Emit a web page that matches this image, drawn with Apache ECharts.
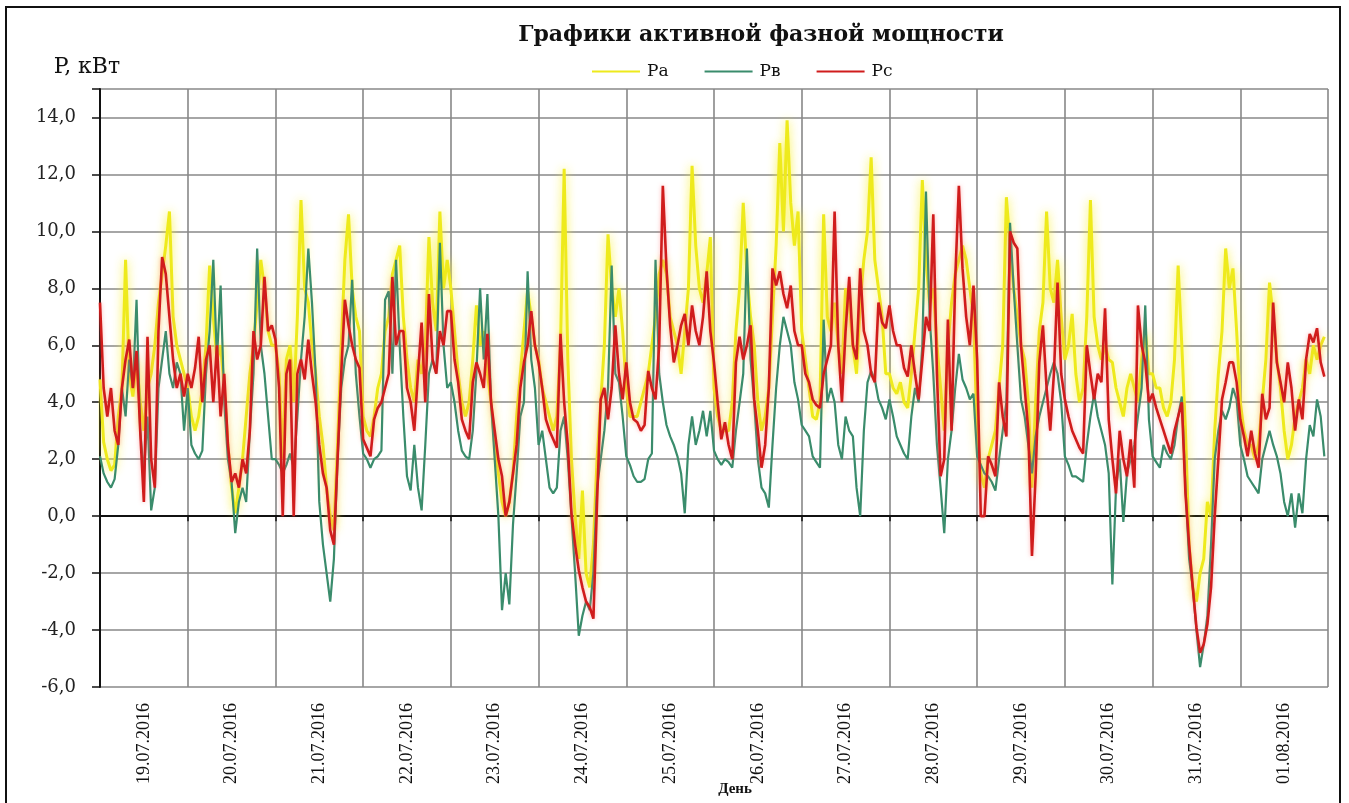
<!DOCTYPE html>
<html>
<head>
<meta charset="utf-8">
<title>Графики активной фазной мощности</title>
<script src="https://cdn.jsdelivr.net/npm/echarts@6/dist/echarts.min.js"></script>
<style>
  html, body { margin: 0; padding: 0; background: #fff; }
  #chart { width: 1349px; height: 803px; }
</style>
</head>
<body>
<div id="chart"></div>
<script>
// Days shown on the horizontal axis (one band per day)
const days = ['19.07.2016', '20.07.2016', '21.07.2016', '22.07.2016', '23.07.2016',
  '24.07.2016', '25.07.2016', '26.07.2016', '27.07.2016', '28.07.2016',
  '29.07.2016', '30.07.2016', '31.07.2016', '01.08.2016'];

// Hourly active power per phase, kW (24 values per day)
const pa = [
  4.8, 2.6, 2.0, 1.6, 1.8, 3.5, 4.5, 9.0, 5.0, 4.2, 5.5, 4.0, 3.0, 4.5, 5.0, 6.0, 7.5, 8.5, 9.5, 10.7, 7.0, 6.0, 5.5, 5.0,
  4.5, 3.5, 3.0, 3.5, 4.5, 6.0, 8.8, 7.0, 5.5, 6.0, 4.5, 2.5, 1.0, 0.1, 1.0, 2.0, 3.5, 5.0, 6.0, 7.5, 9.0, 8.0, 6.5, 6.0,
  6.0, 5.0, 2.0, 5.5, 6.0, 4.0, 7.0, 11.1, 8.0, 7.5, 6.0, 5.0, 3.5, 2.5, 1.0, 0.0, -0.5, 2.5, 6.0, 9.0, 10.6, 8.0, 7.0, 6.5,
  3.5, 3.0, 2.8, 3.5, 4.5, 5.0, 6.5, 7.0, 8.5, 9.0, 9.5, 7.0, 5.5, 4.5, 4.0, 5.5, 5.0, 6.0, 9.8, 7.5, 6.5, 10.7, 8.0, 9.0,
  8.0, 6.5, 5.0, 4.0, 3.5, 4.0, 5.5, 7.4, 6.0, 6.5, 5.0, 4.0, 2.5, 1.5, 0.5, 0.0, 0.5, 1.5, 3.5, 5.0, 6.5, 7.9, 7.0, 6.0,
  5.5, 4.5, 4.0, 3.5, 3.0, 3.5, 6.0, 12.2, 5.5, 2.0, 0.0, -1.5, 0.9, -2.0, -2.5, -1.0, 2.0, 4.0, 6.0, 9.9, 8.0, 7.0, 8.0, 6.5,
  4.5, 3.5, 3.5, 3.5, 4.0, 4.5, 5.0, 6.0, 7.0, 8.5, 9.0, 8.5, 7.0, 6.5, 6.0, 5.0, 6.5, 8.0, 12.3, 9.5, 8.0, 7.5, 8.5, 9.8,
  4.5, 3.5, 3.0, 3.0, 3.0, 4.0, 6.5, 8.0, 11.0, 8.5, 7.0, 6.0, 4.0, 3.0, 3.5, 4.5, 7.0, 9.5, 13.1, 10.0, 13.9, 11.0, 9.5, 10.7,
  6.5, 5.5, 4.5, 3.5, 3.4, 4.0, 10.6, 7.0, 6.5, 7.5, 6.0, 5.0, 8.0, 7.5, 6.0, 5.0, 7.5, 9.0, 10.0, 12.6, 9.0, 8.0, 7.0, 5.0,
  5.0, 4.5, 4.3, 4.7, 4.0, 3.8, 5.0, 6.5, 8.0, 11.8, 9.0, 7.5, 8.0, 6.0, 4.5, 3.0, 6.0, 7.5, 8.5, 9.0, 9.5, 9.0, 8.0, 7.0,
  3.0, 1.5, 1.0, 2.0, 2.5, 3.0, 4.5, 6.0, 11.2, 9.5, 8.0, 7.0, 6.0, 5.5, 4.0, 1.0, 4.0, 6.5, 7.5, 10.7, 8.0, 7.5, 9.0, 7.0,
  5.5, 6.0, 7.1, 5.0, 4.0, 4.5, 7.0, 11.1, 7.0, 6.0, 5.5, 6.0, 5.5, 5.4, 4.5, 4.0, 3.5, 4.5, 5.0, 4.5, 4.0, 5.5, 6.5, 5.0,
  5.0, 4.5, 4.5, 3.8, 3.5, 4.0, 5.5, 8.8, 6.0, 3.0, -1.0, -2.5, -3.0, -2.0, -1.5, 0.5, 0.0, 3.0, 5.0, 6.5, 9.4, 8.0, 8.7, 6.5,
  4.0, 3.0, 2.5, 2.5, 2.0, 2.5, 4.0, 5.5, 8.2, 7.0, 5.5, 4.5, 3.0, 2.0, 2.5, 3.5, 4.0, 4.5, 5.5, 5.0, 6.0, 5.5, 6.0, 6.3
];
const pb = [
  2.1, 1.5, 1.2, 1.0, 1.3, 2.5, 4.5, 3.5, 5.5, 4.5, 7.6, 3.0, 1.5, 3.5, 0.2, 1.0, 4.5, 5.5, 6.5, 5.0, 4.5, 5.4, 5.0, 3.0,
  4.5, 2.5, 2.2, 2.0, 2.3, 5.0, 6.5, 9.0, 5.5, 8.1, 4.0, 2.0, 1.2, -0.6, 0.5, 1.0, 0.5, 3.0, 5.0, 9.4, 6.0, 5.0, 3.5, 2.0,
  2.0, 1.8, 1.5, 1.8, 2.2, 1.7, 3.5, 5.5, 7.0, 9.4, 7.5, 5.0, 0.5, -1.0, -2.0, -3.0, -1.5, 2.0, 4.5, 5.5, 6.0, 8.3, 5.0, 3.5,
  2.2, 2.0, 1.7, 2.0, 2.1, 2.3, 7.6, 7.9, 5.0, 9.0, 6.0, 3.5, 1.4, 0.9, 2.5, 1.0, 0.2, 2.5, 5.0, 5.5, 5.0, 9.6, 6.0, 4.5,
  4.7, 4.0, 3.0, 2.3, 2.1, 2.0, 3.0, 5.1, 8.0, 5.5, 7.8, 4.0, 2.0, 0.0, -3.3, -2.0, -3.1, -0.3, 1.5, 3.5, 4.0, 8.6, 5.5, 4.5,
  2.5, 3.0, 2.0, 1.0, 0.8, 1.0, 3.0, 3.5, 2.0, 0.0, -2.0, -4.2, -3.5, -3.0, -3.3, -2.0, 1.0, 2.0, 3.0, 4.5, 8.8, 5.0, 4.7, 3.5,
  2.1, 1.8, 1.4, 1.2, 1.2, 1.3, 2.0, 2.2, 9.0, 5.0, 4.0, 3.2, 2.8, 2.5, 2.1, 1.5, 0.1, 2.5, 3.5, 2.5, 3.0, 3.7, 2.8, 3.7,
  2.3, 2.0, 1.8, 2.0, 1.9, 1.7, 3.0, 4.0, 5.0, 9.4, 5.5, 4.0, 2.0, 1.0, 0.8, 0.3, 2.5, 4.5, 6.0, 7.0, 6.5, 6.0, 4.7, 4.1,
  3.2, 3.0, 2.8, 2.1, 1.9, 1.7, 6.9, 4.0, 4.5, 4.0, 2.5, 2.0, 3.5, 3.0, 2.8, 1.0, 0.0, 3.0, 4.7, 5.1, 4.8, 4.1, 3.8, 3.4,
  4.1, 3.5, 2.8, 2.5, 2.2, 2.0, 3.5, 4.5, 4.0, 6.0, 11.4, 7.0, 5.0, 2.5, 1.0, -0.6, 2.0, 3.0, 4.5, 5.7, 4.8, 4.5, 4.1, 4.3,
  2.1, 1.8, 1.5, 1.4, 1.2, 0.9, 2.0, 3.0, 4.0, 10.3, 8.0, 6.0, 4.1, 3.5, 2.5, 1.5, 2.8, 3.5, 4.0, 4.5, 5.0, 5.4, 5.0, 4.0,
  2.1, 1.8, 1.4, 1.4, 1.3, 1.2, 2.5, 3.5, 4.3, 3.5, 3.0, 2.5, 1.5, -2.4, 1.0, 2.0, -0.2, 1.5, 2.0, 2.5, 3.5, 4.5, 7.4, 3.4,
  2.1, 1.9, 1.7, 2.5, 2.2, 2.0, 2.5, 3.5, 4.2, 1.0, -1.5, -2.5, -4.0, -5.3, -4.5, -3.5, -1.0, 2.0, 3.0, 3.7, 3.4, 3.8, 4.5, 4.1,
  2.5, 2.0, 1.4, 1.2, 1.0, 0.8, 2.0, 2.5, 3.0, 2.5, 2.1, 1.5, 0.5, 0.0, 0.8, -0.4, 0.8, 0.1, 2.0, 3.2, 2.8, 4.1, 3.5, 2.1
];
const pc = [
  7.5, 4.5, 3.5, 4.5, 3.0, 2.5, 4.5, 5.5, 6.2, 4.5, 5.8, 3.0, 0.5, 6.3, 2.0, 1.0, 6.5, 9.1, 8.5, 7.0, 5.5, 4.5, 5.0, 4.2,
  5.0, 4.5, 5.2, 6.3, 4.0, 5.5, 6.0, 4.0, 6.0, 3.5, 5.0, 2.5, 1.2, 1.5, 1.0, 2.0, 1.5, 3.0, 6.5, 5.5, 6.0, 8.4, 6.5, 6.7,
  6.2, 4.5, 0.0, 5.0, 5.5, 0.0, 5.0, 5.5, 4.8, 6.2, 5.0, 4.0, 2.5, 1.5, 1.0, -0.5, -1.0, 2.0, 5.0, 7.6, 6.7, 6.0, 5.5, 5.2,
  2.7, 2.4, 2.1, 3.4, 3.8, 4.0, 4.5, 5.0, 8.4, 6.0, 6.5, 6.5, 4.5, 4.0, 3.0, 5.0, 6.8, 4.0, 7.8, 5.5, 5.0, 6.5, 6.0, 7.2,
  7.2, 5.5, 4.7, 3.4, 3.0, 2.7, 4.7, 5.4, 5.0, 4.5, 6.4, 4.0, 3.0, 2.0, 1.4, 0.0, 0.5, 1.5, 2.5, 4.5, 5.4, 6.0, 7.2, 6.0,
  5.4, 4.5, 3.4, 3.0, 2.7, 2.4, 6.4, 4.0, 2.5, 0.1, -1.0, -1.9, -2.5, -3.0, -3.2, -3.6, 0.5, 4.1, 4.5, 3.4, 4.5, 6.7, 5.0, 4.1,
  5.4, 4.0, 3.4, 3.3, 3.0, 3.2, 5.1, 4.5, 4.1, 6.0, 11.6, 8.7, 6.7, 5.4, 6.0, 6.7, 7.1, 6.0, 7.4, 6.5, 6.0, 7.0, 8.6, 6.5,
  5.4, 4.0, 2.7, 3.3, 2.5, 2.0, 5.4, 6.3, 5.5, 6.0, 6.7, 4.1, 3.0, 1.7, 2.5, 4.5, 8.7, 8.1, 8.6, 7.8, 7.3, 8.1, 6.5, 6.0,
  6.0, 5.0, 4.7, 4.1, 3.9, 3.8, 5.0, 5.5, 6.0, 10.7, 6.0, 4.0, 6.5, 8.4, 6.0, 5.5, 8.7, 6.5, 6.0, 5.0, 4.7, 7.5, 6.8, 6.6,
  7.4, 6.5, 6.0, 6.0, 5.2, 4.9, 6.0, 5.0, 4.1, 5.5, 7.0, 6.5, 10.6, 5.0, 1.4, 2.0, 6.9, 3.0, 8.3, 11.6, 8.7, 7.0, 6.0, 8.1,
  5.5, 0.0, 0.0, 2.1, 1.8, 1.4, 4.7, 3.5, 2.8, 10.0, 9.6, 9.4, 6.0, 4.5, 3.0, -1.4, 1.4, 5.4, 6.7, 4.5, 3.0, 5.0, 8.2, 5.0,
  4.1, 3.5, 3.0, 2.7, 2.4, 2.2, 6.0, 5.0, 4.1, 5.0, 4.7, 7.3, 3.4, 2.0, 0.8, 3.0, 2.0, 1.4, 2.7, 1.0, 7.4, 6.0, 5.4, 4.0,
  4.3, 3.8, 3.4, 3.0, 2.6, 2.2, 3.0, 3.5, 4.0, 0.8, -1.0, -2.5, -3.9, -4.8, -4.5, -3.8, -2.5, 0.0, 2.0, 4.1, 4.7, 5.4, 5.4, 4.7,
  3.4, 2.8, 2.1, 3.0, 2.2, 1.7, 4.3, 3.4, 3.8, 7.5, 5.4, 4.7, 4.0, 5.4, 4.5, 3.0, 4.1, 3.4, 5.5, 6.4, 6.1, 6.6, 5.4, 4.9
];

// Y axis range and step, kW
const yMin = -6, yMax = 15, yStep = 2;

const serif = '"DejaVu Serif", "Liberation Serif", serif';
const seriesColors = ['#eeea1c', '#3a8c6c', '#d01c1c'];

// Hourly samples placed on a continuous day scale (0 … 14)
const toPoints = arr => arr.map((v, i) => [i / 24, v]);

const chart = echarts.init(document.getElementById('chart'), null, { renderer: 'canvas' });

chart.setOption({
  animation: false,
  backgroundColor: '#ffffff',
  title: {
    text: 'Графики активной фазной мощности',
    left: 756,
    textAlign: 'center',
    top: 19,
    textStyle: { fontFamily: serif, fontWeight: 'bold', fontSize: 22, color: '#111' }
  },
  legend: {
    left: 587,
    top: 58,
    itemWidth: 48,
    itemHeight: 2,
    itemGap: 36,
    icon: 'rect',
    textStyle: { fontFamily: serif, fontSize: 17, color: '#111', padding: [0, 0, 0, 2] },
    data: ['Ра', 'Рв', 'Рс']
  },
  grid: { left: 100, right: 21, top: 89, bottom: 116, containLabel: false, outerBoundsMode: 'none' },
  xAxis: [
    {
      type: 'value',
      min: 0,
      max: days.length,
      interval: 1,
      axisLine: { onZero: true, lineStyle: { color: '#111', width: 2 } },
      axisTick: { show: true, length: 5, lineStyle: { color: '#111', width: 1.5 } },
      axisLabel: { show: false },
      splitLine: { show: true, lineStyle: { color: '#888888', width: 1.6 } }
    },
    {
      type: 'category',
      position: 'bottom',
      data: days,
      boundaryGap: true,
      axisLine: { show: false, onZero: false },
      axisTick: { show: false },
      splitLine: { show: false },
      axisLabel: {
        rotate: 90,
        margin: 16,
        interval: 0,
        fontFamily: '"Liberation Serif", serif',
        fontSize: 18,
        color: '#111'
      },
      name: 'День',
      nameLocation: 'middle',
      nameGap: 110,
      nameMoveOverlap: false,
      nameTextStyle: {
        fontFamily: '"Liberation Serif", serif', fontSize: 15, fontWeight: 'bold', color: '#111',
        verticalAlign: 'bottom', padding: [0, 0, 0, 42]
      }
    }
  ],
  yAxis: {
    type: 'value',
    min: yMin,
    max: yMax,
    interval: yStep,
    name: 'P, кВт',
    nameLocation: 'end',
    nameGap: 11,
    nameTextStyle: { fontFamily: serif, fontSize: 22, color: '#111', align: 'center', padding: [0, 26, 0, 0] },
    axisLine: { show: true, onZero: false, lineStyle: { color: '#111', width: 2 } },
    axisTick: { show: true, length: 8, lineStyle: { color: '#111', width: 1.5 } },
    axisLabel: {
      margin: 24,
      fontFamily: serif,
      fontSize: 18,
      color: '#222',
      formatter: v => (v > 14 ? '' : v.toFixed(1).replace('.', ','))
    },
    splitLine: { show: true, lineStyle: { color: '#888888', width: 1.6 } }
  },
  graphic: [{
    type: 'rect',
    shape: { x: 6, y: 7, width: 1334, height: 800 },
    style: { fill: 'none', stroke: '#111', lineWidth: 2 },
    silent: true
  }],
  series: [
    {
      name: 'Ра', type: 'line', data: toPoints(pa), showSymbol: false, symbol: 'none',
      color: seriesColors[0],
      lineStyle: { width: 3, color: seriesColors[0], shadowBlur: 10, shadowColor: 'rgba(250,240,40,0.9)' }
    },
    {
      name: 'Рв', type: 'line', data: toPoints(pb), showSymbol: false, symbol: 'none',
      color: seriesColors[1],
      lineStyle: { width: 2.2, color: seriesColors[1] }
    },
    {
      name: 'Рс', type: 'line', data: toPoints(pc), showSymbol: false, symbol: 'none',
      color: seriesColors[2],
      lineStyle: { width: 2.6, color: seriesColors[2], shadowBlur: 4, shadowColor: 'rgba(255,110,110,0.5)' }
    }
  ]
});
</script>
</body>
</html>
